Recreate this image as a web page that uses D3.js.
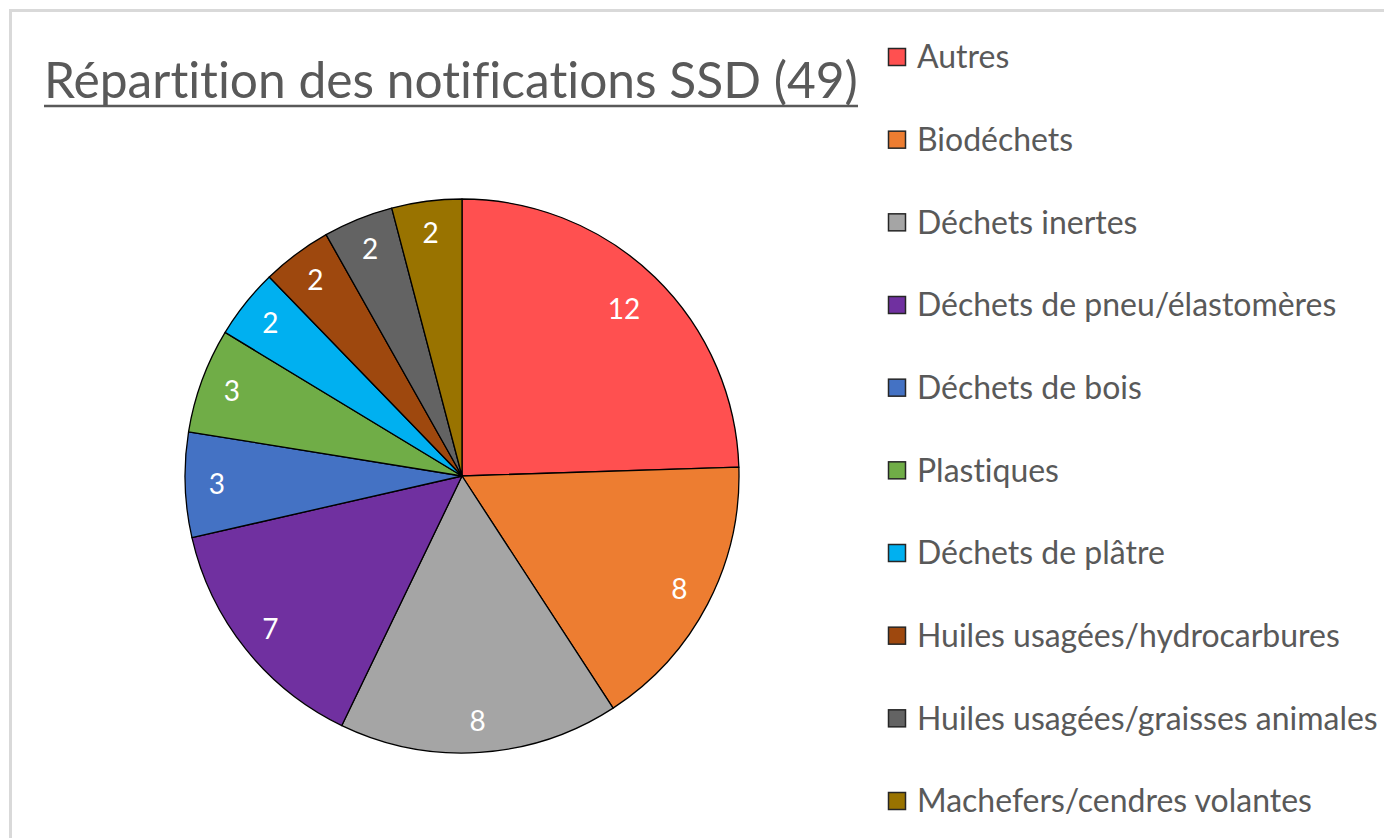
<!DOCTYPE html>
<html>
<head>
<meta charset="utf-8">
<script src="https://cdn.jsdelivr.net/npm/d3@7"></script>
<style>
  body { margin: 0; background: #fff; }
  svg { display: block; }
  text { font-family: Lato, "Open Sans", sans-serif; font-variant-ligatures: none; font-feature-settings: "liga" 0, "clig" 0; }
</style>
</head>
<body>
<div id="chart"></div>
<script>
const categories = [
  "Autres",
  "Biodéchets",
  "Déchets inertes",
  "Déchets de pneu/élastomères",
  "Déchets de bois",
  "Plastiques",
  "Déchets de plâtre",
  "Huiles usagées/hydrocarbures",
  "Huiles usagées/graisses animales",
  "Machefers/cendres volantes"
];
const values = [12, 8, 8, 7, 3, 3, 2, 2, 2, 2];
const colors = ["#ff5050", "#ed7d31", "#a5a5a5", "#7030a0", "#4472c4",
                "#70ad47", "#00b0f0", "#9e480e", "#636363", "#997300"];
const title = "Répartition des notifications SSD (49)";

const W = 1384, H = 838;
const cx = 462, cy = 476, radius = 277;

const svg = d3.select("#chart")
  .append("svg")
  .attr("width", W)
  .attr("height", H);

// chart area border (top and left edges visible)
svg.append("rect")
  .attr("x", 10.5)
  .attr("y", 10.5)
  .attr("width", W + 20)
  .attr("height", H + 20)
  .attr("fill", "none")
  .attr("stroke", "#d9d9d9")
  .attr("stroke-width", 3);

// fit a text element to a target width
function fitWidth(sel, target) {
  const w = sel.node().getComputedTextLength();
  const fs = parseFloat(sel.attr("font-size"));
  sel.attr("font-size", fs * target / w);
}

// Title
const t = svg.append("text")
  .attr("x", 44)
  .attr("y", 98)
  .attr("font-size", 40)
  .attr("fill", "#595959")
  .text(title);
fitWidth(t, 814);

svg.append("line")
  .attr("x1", 44)
  .attr("x2", 858)
  .attr("y1", 106)
  .attr("y2", 106)
  .attr("stroke", "#595959")
  .attr("stroke-width", 2.5);

// Pie
const data = categories.map((c, i) => ({ name: c, value: values[i], color: colors[i] }));
const pie = d3.pie().value(d => d.value).sort(null);
const arcs = pie(data);
const arc = d3.arc().innerRadius(0).outerRadius(radius);

const g = svg.append("g").attr("transform", `translate(${cx},${cy})`);

g.selectAll("path")
  .data(arcs)
  .join("path")
  .attr("d", arc)
  .attr("fill", d => d.data.color)
  .attr("stroke", "#000")
  .attr("stroke-width", 1.3)
  .attr("stroke-linejoin", "round");

g.selectAll("text.lbl")
  .data(arcs)
  .join("text")
  .attr("class", "lbl")
  .attr("transform", d => {
    const r = d.data.value >= 10 ? radius * 0.84 : radius * 0.885;
    const a = (d.startAngle + d.endAngle) / 2;
    return `translate(${r * Math.sin(a)},${-r * Math.cos(a)})`;
  })
  .attr("text-anchor", "middle")
  .attr("dy", "0.36em")
  .attr("font-size", 28)
  .attr("fill", "#fff")
  .text(d => d.data.value);

// Legend
const legendY = d3.scalePoint().domain(categories).range([57, 801]);

const leg = svg.append("g")
  .selectAll("g")
  .data(data)
  .join("g")
  .attr("transform", d => `translate(888,${legendY(d.name)})`);

leg.append("rect")
  .attr("x", 0.5)
  .attr("y", -8.5)
  .attr("width", 17)
  .attr("height", 17)
  .attr("fill", d => d.color)
  .attr("stroke", "#262626")
  .attr("stroke-width", 1.5);

const legText = leg.append("text")
  .attr("x", 29)
  .attr("dy", "0.35em")
  .attr("font-size", 28)
  .attr("fill", "#595959")
  .text(d => d.name);

// scale legend font so the longest entry matches the reference width
const longest = legText.filter(d => d.name === "Huiles usagées/graisses animales");
const w0 = longest.node().getComputedTextLength();
legText.attr("font-size", 28 * 461 / w0);
</script>
</body>
</html>
